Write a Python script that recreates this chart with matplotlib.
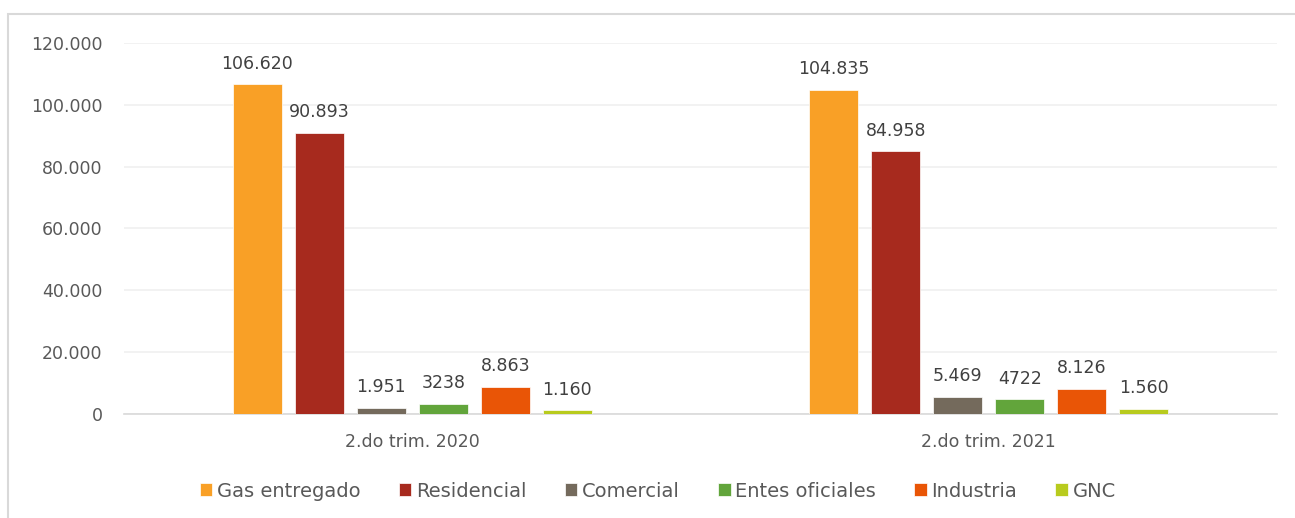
import numpy as np
import matplotlib.pyplot as plt
from matplotlib.patches import Rectangle

# data
periodos = ['2.do trim. 2020', '2.do trim. 2021']
series = ['Gas entregado', 'Residencial', 'Comercial', 'Entes oficiales', 'Industria', 'GNC']
val_2020 = [106620, 90893, 1951, 3238, 8863, 1160]
val_2021 = [104835, 84958, 5469, 4722, 8126, 1560]
etiq_2020 = ['106.620', '90.893', '1.951', '3238', '8.863', '1.160']
etiq_2021 = ['104.835', '84.958', '5.469', '4722', '8.126', '1.560']
colores = ['#F9A026', '#A72A1E', '#746A5C', '#62A53B', '#E95506', '#B8CB1E']

plt.rcParams['font.family'] = ['DejaVu Sans']

fig = plt.figure(figsize=(12.95, 5.18), dpi=100)
ax = fig.add_axes([0.0958, 0.2008, 0.8902, 0.7162])

# marco del grafico (sale por la derecha y por abajo)
fig.patches.append(Rectangle((8 / 1295, -0.5), 1.5, 1.5 - 14 / 518,
                             transform=fig.transFigure, fill=False,
                             edgecolor='#d9d9d9', linewidth=1.5, zorder=0))

x = np.arange(len(periodos))
paso = 0.1075
ancho = 0.085
valores = np.array([val_2020, val_2021]).T
etiquetas = np.array([etiq_2020, etiq_2021]).T
for i, nombre in enumerate(series):
    pos = x + (i - 2.5) * paso
    ax.bar(pos, valores[i], width=ancho, color=colores[i], label=nombre,
           edgecolor='white', linewidth=0.5, zorder=3)
    for xp, v, t in zip(pos, valores[i], etiquetas[i]):
        ax.text(xp, v + 3800, t, ha='center', va='bottom', fontsize=12.5,
                color='#404040', zorder=4)

ax.set_xlim(-0.5, 1.5)
ax.set_ylim(0, 120000)
ax.set_yticks(np.arange(0, 120001, 20000))
ax.set_yticklabels(['0', '20.000', '40.000', '60.000', '80.000', '100.000', '120.000'])
ax.set_xticks(x)
ax.set_xticklabels(periodos)
ax.tick_params(axis='both', length=0, labelsize=12.5, colors='#595959')
ax.tick_params(axis='x', pad=14)
ax.tick_params(axis='y', pad=15.5)
ax.grid(axis='y', color='#f0f0f0', linewidth=1.2, zorder=0)
for s in ['top', 'right', 'left']:
    ax.spines[s].set_visible(False)
ax.spines['bottom'].set_color('#d9d9d9')
ax.spines['bottom'].set_linewidth(1.2)

fig.legend(loc='center', bbox_to_anchor=(0.508, 0.052), ncol=6, frameon=False,
           fontsize=14, handlelength=0.65, handleheight=0.65, handletextpad=0.25,
           columnspacing=1.95, labelcolor='#595959')

fig.savefig('out.png', dpi=100)
